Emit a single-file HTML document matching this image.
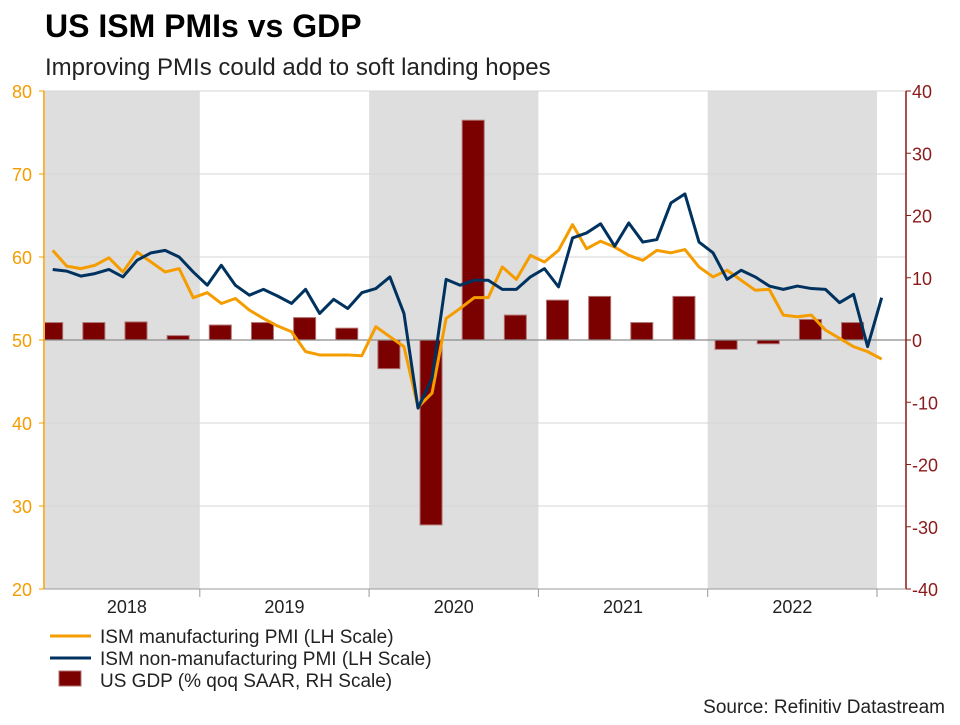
<!DOCTYPE html>
<html><head><meta charset="utf-8"><style>
body{margin:0;background:#fff;font-family:"Liberation Sans",Arial,sans-serif;}
svg text{font-family:"Liberation Sans",Arial,sans-serif;}
</style></head><body>
<svg id="chart" width="960" height="720" xmlns="http://www.w3.org/2000/svg">
<text x="45" y="37" font-size="32" font-weight="bold" fill="#000">US ISM PMIs vs GDP</text>
<text x="45" y="75" font-size="24" fill="#222">Improving PMIs could add to soft landing hopes</text>
<g id="plot"></g>
<g>
<line x1="50" y1="636" x2="91" y2="636" stroke="#f59c00" stroke-width="3"/>
<text x="100" y="643" font-size="19" fill="#222">ISM manufacturing PMI (LH Scale)</text>
<line x1="50" y1="658" x2="91" y2="658" stroke="#00325f" stroke-width="3"/>
<text x="100" y="665" font-size="19" fill="#222">ISM non-manufacturing PMI (LH Scale)</text>
<rect x="59" y="671" width="22" height="15" fill="#7b0000" stroke="#b07070"/>
<text x="100" y="687" font-size="19" fill="#222">US GDP (% qoq SAAR, RH Scale)</text>
</g>
<text x="945" y="713" font-size="19" fill="#222" text-anchor="end">Source: Refinitiv Datastream</text>
</svg>
<script>
const years = ["2018","2019","2020","2021","2022"];
const shadedYears = [0, 2, 4];
const manufacturing = [60.8,58.9,58.6,59.0,59.9,58.2,60.6,59.4,58.2,58.6,55.1,55.7,
54.4,55.0,53.6,52.6,51.7,51.0,48.6,48.2,48.2,48.2,48.1,51.6,
50.4,49.2,41.9,43.6,52.6,53.8,55.1,55.1,58.8,57.3,60.2,59.4,
60.8,63.9,61.0,61.9,61.2,60.2,59.6,60.8,60.5,60.9,58.8,57.6,
58.4,57.2,56.0,56.1,53.0,52.8,53.0,51.2,50.2,49.2,48.6,47.7];
const nonManufacturing = [58.5,58.3,57.7,58.0,58.5,57.6,59.6,60.5,60.8,60.0,58.2,56.6,
59.0,56.6,55.4,56.1,55.3,54.4,56.1,53.2,54.9,53.8,55.7,56.2,
57.6,53.2,41.8,45.4,57.3,56.6,57.2,57.2,56.1,56.1,57.6,58.6,
56.4,62.3,62.9,64.0,61.3,64.1,61.8,62.1,66.5,67.6,61.8,60.5,
57.3,58.4,57.6,56.5,56.1,56.5,56.2,56.1,54.5,55.5,49.2,55.1];
const gdp = [2.8,2.8,2.9,0.7, 2.4,2.8,3.6,1.9, -4.6,-29.7,35.3,4.0, 6.4,7.0,2.8,7.0, -1.5,-0.6,3.3,2.8];
const leftTicks = [20,30,40,50,60,70,80];
const rightTicks = [-40,-30,-20,-10,0,10,20,30,40];

const NS="http://www.w3.org/2000/svg";
const g=document.getElementById('plot');
const X0=44, X1=906, YT=91, YB=589;
const yL=v=>YB-(v-20)/60*(YB-YT);
const yR=v=>YB-(v+40)/80*(YB-YT);
const yearX=i=>30.5+i*169.3;
const xm=i=>52.7+i*14.05;
function mk(tag,attrs){const e=document.createElementNS(NS,tag);for(const k in attrs)e.setAttribute(k,attrs[k]);g.appendChild(e);return e;}

const defs=mk('defs',{});
const cp=document.createElementNS(NS,'clipPath');cp.setAttribute('id','pc');
const cr=document.createElementNS(NS,'rect');
cr.setAttribute('x',X0+1);cr.setAttribute('y',YT);cr.setAttribute('width',X1-X0-1);cr.setAttribute('height',YB-YT);
cp.appendChild(cr);defs.appendChild(cp);

shadedYears.forEach(i=>{
  const a=Math.max(X0+1,yearX(i)), b=yearX(i+1);
  const r=mk('rect',{x:a,y:YT,width:b-a,height:YB-YT,fill:'#dedede'});
  
  
});
leftTicks.forEach(v=>{
  if(v===20||v===50)return;
  const l=mk('line',{x1:X0,x2:X1,y1:yL(v),y2:yL(v),stroke:'#d6d6d6','stroke-width':1});
  
  
});
const bars=mk('g',{'clip-path':'url(#pc)'});
gdp.forEach((v,q)=>{
  const cx=xm(q*3)-1, y0=yR(0), y1=yR(v);
  const r=document.createElementNS(NS,'rect');
  r.setAttribute('x',cx-11);r.setAttribute('y',Math.min(y0,y1));r.setAttribute('width',22);
  r.setAttribute('height',Math.abs(y1-y0));r.setAttribute('fill','#7b0000');r.setAttribute('stroke','#b07070');
  
  
  bars.appendChild(r);
});
const z=mk('line',{x1:X0,x2:X1,y1:yL(50),y2:yL(50),stroke:'#8c8c8c','stroke-width':1.3});


function line(data,color,name){
  const p=mk('polyline',{points:data.map((v,i)=>xm(i)+','+yL(v)).join(' '),fill:'none',stroke:color,'stroke-width':3,'stroke-linejoin':'round'});
  
  
}
line(manufacturing,'#f59c00','manufacturing-pmi-line');
line(nonManufacturing,'#00325f','non-manufacturing-pmi-line');
const la=mk('line',{x1:X0,x2:X0,y1:YT,y2:YB,stroke:'#f59c00','stroke-width':1.5});


const ra=mk('line',{x1:X1,x2:X1,y1:YT,y2:YB,stroke:'#8b1a1a','stroke-width':1.5});


const ba=mk('line',{x1:X0,x2:X1,y1:YB,y2:YB,stroke:'#9a9a9a','stroke-width':1});


leftTicks.forEach(v=>{
  mk('line',{x1:X0-5,x2:X0,y1:yL(v),y2:yL(v),stroke:'#f59c00'});
  const t=mk('text',{x:X0-12,y:yL(v)+7,'font-size':18,fill:'#f59c00','text-anchor':'end'});
  t.textContent=v;
  
  
});
rightTicks.forEach(v=>{
  mk('line',{x1:X1,x2:X1+5,y1:yR(v),y2:yR(v),stroke:'#8b1a1a'});
  const t=mk('text',{x:X1+6,y:yR(v)+7,'font-size':18,fill:'#8b1a1a'});
  t.textContent=v;
  
  
});
years.forEach((y,i)=>{
  const b=yearX(i+1);
  mk('line',{x1:b,x2:b,y1:YB,y2:YB+8,stroke:'#9a9a9a'});
  const a=Math.max(X0,yearX(i));
  const t=mk('text',{x:(a+b)/2+(i===0?5:0),y:613,'font-size':18,fill:'#222','text-anchor':'middle'});
  t.textContent=y;
  
  
});
</script>
</body></html>
